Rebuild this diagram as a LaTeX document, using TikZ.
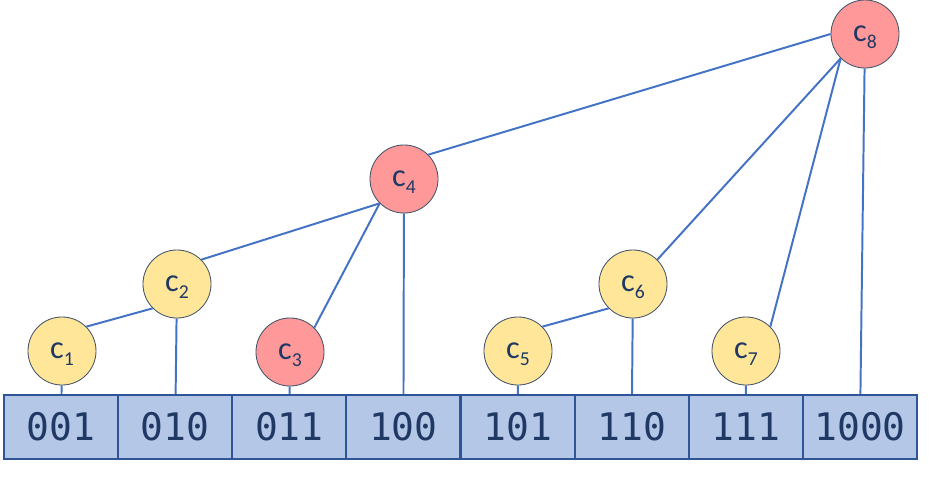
\documentclass[tikz,border=0pt]{standalone}
\usepackage{fontspec}
\setmainfont{Carlito}
\newfontfamily\bitsfont{DejaVu Sans Mono}
\usetikzlibrary{positioning}

\definecolor{cellfill}{HTML}{B4C7E7}
\definecolor{celledge}{HTML}{2F5597}
\definecolor{inkblue}{HTML}{203864}
\definecolor{wireblue}{HTML}{4472C4}
\definecolor{leafyellow}{HTML}{FFE699}
\definecolor{sumred}{HTML}{FF9999}
\definecolor{ringgray}{HTML}{44546A}

\newcommand{\idx}[1]{\raisebox{-0.22em}{\fontsize{14}{14}\selectfont#1}}

\begin{document}
\begin{tikzpicture}[x=0.025cm,y=-0.025cm,
    cell/.style={draw=celledge,fill=cellfill,line width=1.6pt,minimum width=2.853cm,
                 minimum height=1.6cm,inner sep=0pt,text=inkblue,
                 font=\bitsfont\fontsize{27}{27}\selectfont},
    tree/.style={circle,draw=ringgray,line width=0.6pt,minimum size=1.7cm,inner sep=0pt,
                 text=inkblue,text height=10.8pt,text depth=0pt,
                 font=\fontsize{23}{23}\selectfont},
    leaf/.style={tree,fill=leafyellow},
    sum/.style={tree,fill=sumred},
    wire/.style={draw=wireblue,line width=1.4pt}]
    \useasboundingbox[fill=white] (0,0) rectangle (933,479);

    % the array
    \node[cell] (b1) at (61.1,427) {001};
    \node[cell] (b2) at (175.2,427) {010};
    \node[cell] (b3) at (289.3,427) {011};
    \node[cell] (b4) at (403.4,427) {100};
    \node[cell] (b5) at (517.6,427) {101};
    \node[cell] (b6) at (631.7,427) {110};
    \node[cell] (b7) at (745.8,427) {111};
    \node[cell] (b8) at (860,427) {1000};

    % the tree
    \node[leaf] (c1) at (62,351) {c\idx{1}};
    \node[leaf] (c2) at (177,284) {c\idx{2}};
    \node[sum]  (c3) at (290,352) {c\idx{3}};
    \node[sum]  (c4) at (404,179) {c\idx{4}};
    \node[leaf] (c5) at (518,351) {c\idx{5}};
    \node[leaf] (c6) at (633,284) {c\idx{6}};
    \node[leaf] (c7) at (746,351) {c\idx{7}};
    \node[sum]  (c8) at (865,34) {c\idx{8}};

    \draw[wire] (c1.north east) -- (c2.south west);
    \draw[wire] (c2.north east) -- (c4.south west);
    \draw[wire] (c3.north east) -- (c4.south west);
    \draw[wire] (c4.north east) -- (c8.west);
    \draw[wire] (c5.north east) -- (c6.south west);
    \draw[wire] (c6.north east) -- (c8.south west);
    \draw[wire] (c7.north east) -- (c8.south west);

    \draw[wire] (c1) -- (b1);
    \draw[wire] (c2) -- (b2);
    \draw[wire] (c3) -- (b3);
    \draw[wire] (c4) -- (b4);
    \draw[wire] (c5) -- (b5);
    \draw[wire] (c6) -- (b6);
    \draw[wire] (c7) -- (b7);
    \draw[wire] (c8) -- (b8);
\end{tikzpicture}
\end{document}
